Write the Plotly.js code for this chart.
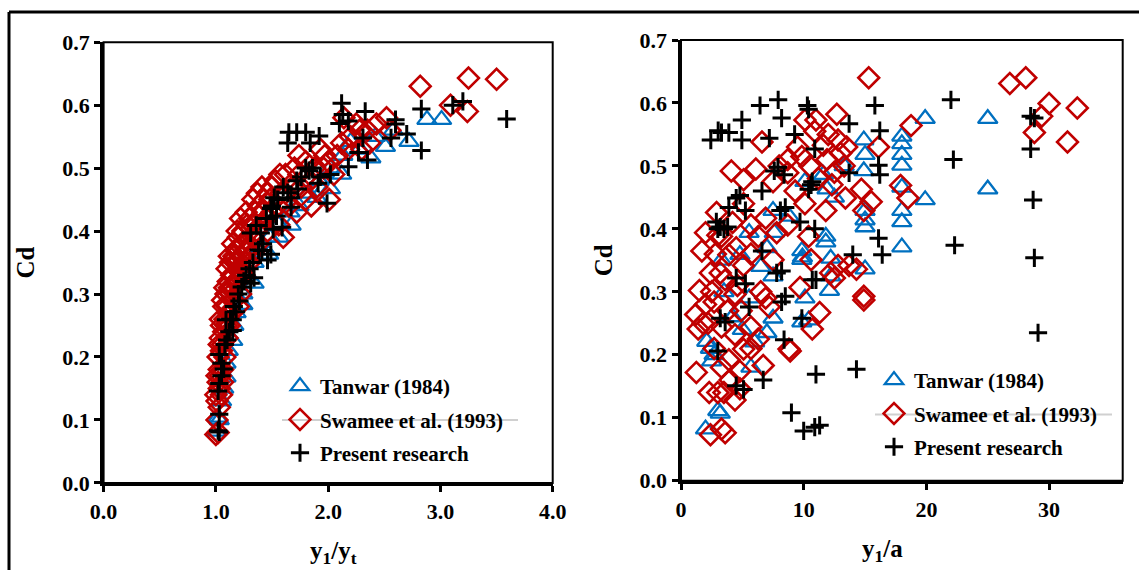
<!DOCTYPE html>
<html>
<head>
<meta charset="utf-8">
<script src="https://cdn.plot.ly/plotly-3.0.1.min.js"></script>
<style>html,body{margin:0;padding:0;background:#fff;}#chart{width:1139px;height:570px;}</style>
</head>
<body>
<div id="chart"></div>
<script>
// ---- Data : [x, Cd] pairs ----
const seriesNames = ["Tanwar (1984)", "Swamee et al. (1993)", "Present research"];
const xTitleLeft = "y<sub>1</sub>/y<sub>t</sub>";
const xTitleRight = "y<sub>1</sub>/a";
const yTitle = "Cd";

// Left panel: Cd vs y1/yt
const leftTanwar = [[2.88,0.577],[3.01,0.577],[2.72,0.542],[2.51,0.534],[2.38,0.516],[2.20,0.542],[2.12,0.49],[2.02,0.467],[1.90,0.453],[1.67,0.409],[1.56,0.39],[1.47,0.363],[1.34,0.317],[1.24,0.283],[1.15,0.226],[1.09,0.168],[1.02,0.104],[1.00,0.082],[1.05,0.13],[1.07,0.15],[1.09,0.19],[1.11,0.21],[1.16,0.25],[1.18,0.27],[1.24,0.30],[1.28,0.33],[1.34,0.35],[1.39,0.37],[1.48,0.39],[1.56,0.41],[1.66,0.43],[1.74,0.44],[1.82,0.46],[1.92,0.48],[2.02,0.50],[2.13,0.52],[2.28,0.53],[2.42,0.55],[2.58,0.56],[1.03,0.10]];

const leftSwamee = [[1.00,0.077],[1.02,0.08],[1.01,0.13],[1.00,0.14],[1.03,0.15],[1.02,0.16],[1.05,0.14],[1.04,0.17],[1.03,0.18],[1.06,0.18],[1.02,0.20],[1.05,0.21],[1.08,0.20],[1.04,0.23],[1.07,0.24],[1.10,0.23],[1.05,0.25],[1.08,0.26],[1.12,0.25],[1.07,0.28],[1.10,0.28],[1.14,0.27],[1.09,0.30],[1.12,0.31],[1.16,0.29],[1.20,0.28],[1.11,0.32],[1.14,0.33],[1.18,0.32],[1.22,0.30],[1.13,0.35],[1.17,0.35],[1.21,0.34],[1.18,0.37],[1.22,0.36],[1.26,0.35],[1.20,0.39],[1.25,0.38],[1.30,0.37],[1.24,0.40],[1.28,0.41],[1.33,0.39],[1.38,0.38],[1.30,0.42],[1.35,0.43],[1.40,0.41],[1.46,0.40],[1.38,0.44],[1.43,0.45],[1.50,0.43],[1.56,0.41],[1.60,0.39],[1.46,0.46],[1.53,0.48],[1.58,0.46],[1.65,0.44],[1.72,0.43],[1.62,0.49],[1.70,0.50],[1.76,0.47],[1.80,0.45],[1.85,0.44],[1.80,0.51],[1.88,0.50],[1.93,0.53],[2.00,0.51],[2.01,0.45],[2.05,0.49],[2.12,0.54],[2.14,0.58],[2.20,0.55],[2.25,0.57],[2.30,0.53],[2.37,0.54],[2.43,0.57],[2.52,0.58],[2.55,0.56],[2.82,0.63],[3.09,0.60],[3.24,0.59],[3.25,0.643],[3.50,0.641],[1.18,0.369],[1.16,0.36],
  [1.01,0.10],[1.03,0.12],[1.01,0.17],[1.06,0.16],[1.03,0.22],[1.06,0.22],[1.04,0.26],[1.09,0.25],[1.06,0.29],[1.11,0.27],[1.08,0.31],[1.13,0.30],[1.10,0.34],[1.15,0.31],[1.12,0.36],[1.16,0.33],[1.15,0.38],[1.19,0.35],[1.23,0.33],[1.19,0.40],[1.23,0.38],[1.27,0.37],[1.22,0.42],[1.27,0.43],[1.32,0.41],[1.36,0.40],[1.33,0.45],[1.37,0.46],[1.42,0.43],[1.45,0.42],[1.41,0.47],[1.48,0.45],[1.55,0.44],[1.50,0.47],[1.57,0.49],[1.62,0.46],[1.68,0.47],[1.74,0.49],[1.74,0.52],[1.84,0.48],[1.90,0.47],[1.96,0.50],[1.97,0.52],[2.08,0.52],[2.18,0.53],[2.28,0.56],[2.35,0.56],[1.25,0.33],[1.30,0.35],[1.35,0.37]];

const leftPresent = [[3.59,0.578],[3.20,0.606],[3.11,0.600],[2.83,0.594],[2.83,0.528],[2.60,0.577],[2.60,0.570],[2.56,0.548],[2.70,0.554],[2.33,0.590],[2.31,0.548],[2.35,0.513],[2.27,0.525],[2.12,0.603],[2.13,0.585],[2.10,0.571],[2.18,0.575],[2.18,0.502],[2.02,0.490],[1.93,0.486],[1.99,0.444],[1.91,0.476],[1.83,0.496],[1.76,0.486],[1.92,0.551],[1.84,0.540],[1.80,0.557],[1.72,0.557],[1.65,0.557],[1.64,0.540],[1.73,0.467],[1.67,0.453],[1.64,0.461],[1.67,0.438],[1.52,0.453],[1.49,0.436],[1.54,0.424],[1.59,0.406],[1.51,0.403],[1.36,0.409],[1.31,0.397],[1.40,0.397],[1.49,0.363],[1.41,0.369],[1.46,0.354],[1.34,0.326],[1.31,0.317],[1.23,0.311],[1.21,0.289],[1.18,0.272],[1.15,0.259],[1.09,0.259],[1.15,0.242],[1.10,0.227],[1.03,0.204],[1.07,0.181],[1.05,0.170],[1.03,0.158],[1.02,0.146],[1.03,0.109],[1.02,0.083],[1.03,0.081],[1.05,0.19],[1.08,0.22],[1.12,0.24],[1.13,0.26],[1.16,0.28],[1.20,0.30],[1.25,0.32],[1.27,0.33],[1.30,0.34],[1.33,0.35],[1.38,0.37],[1.42,0.38],[1.45,0.42],[1.50,0.44],[1.55,0.45],[1.60,0.47],[1.72,0.48],[1.80,0.50],[1.86,0.50]];

// Right panel: Cd vs y1/a
const rightTanwar = [[19.9,0.575],[25.0,0.575],[25.0,0.463],[19.9,0.446],[18.0,0.547],[18.0,0.535],[18.0,0.518],[18.0,0.501],[18.0,0.466],[18.0,0.429],[18.0,0.411],[18.0,0.371],[14.9,0.541],[15.0,0.518],[14.9,0.492],[15.0,0.429],[15.0,0.414],[15.0,0.403],[15.0,0.336],[11.8,0.388],[11.8,0.379],[12.2,0.353],[12.2,0.325],[12.1,0.302],[9.85,0.365],[9.85,0.351],[10.1,0.29],[10.4,0.255],[9.85,0.252],[7.5,0.429],[7.6,0.394],[7.5,0.325],[7.5,0.258],[7.0,0.235],[5.55,0.29],[5.55,0.394],[4.8,0.359],[5.7,0.18],[2.1,0.221],[2.7,0.2],[3.0,0.111],[2.0,0.082],[10.1,0.475],[11.6,0.486],[11.9,0.463],[12.5,0.45],[6.5,0.34],[7.0,0.37],[3.5,0.3],[4.2,0.26],[2.5,0.19],[6.0,0.22],[8.8,0.42],[13.3,0.5],[3.3,0.35],[5.0,0.24],[9.9,0.355],[2.4,0.21],[3.2,0.107]];

const rightSwamee = [[15.3,0.64],[26.8,0.631],[28.1,0.64],[30.0,0.599],[29.4,0.579],[28.8,0.553],[31.5,0.538],[32.3,0.592],[18.75,0.564],[17.9,0.469],[18.5,0.449],[12.7,0.582],[10.1,0.573],[11.0,0.573],[6.6,0.538],[16.1,0.53],[14.7,0.463],[15.5,0.443],[14.9,0.429],[14.9,0.293],[14.9,0.287],[14.3,0.336],[13.7,0.342],[12.8,0.342],[12.2,0.33],[12.5,0.322],[11.3,0.267],[10.7,0.241],[9.7,0.307],[8.8,0.209],[8.9,0.206],[7.2,0.276],[6.9,0.29],[6.7,0.183],[1.25,0.172],[2.4,0.073],[3.3,0.082],[3.6,0.076],[4.1,0.492],[5.1,0.478],[6.1,0.495],[2.9,0.426],[2.0,0.394],[1.7,0.365],[1.5,0.302],[1.2,0.264],[1.4,0.241],[2.3,0.14],[3.0,0.14],[4.4,0.128],[4.8,0.146],[8.7,0.51],[9.85,0.515],[11.9,0.51],[11.6,0.533],[12.8,0.541],[13.0,0.52],[13.3,0.5],[13.4,0.449],[11.8,0.429],[10.1,0.44],[9.3,0.46],[8.7,0.489],[7.5,0.475],[6.9,0.417],[7.8,0.394],[8.7,0.406],[10.4,0.388],[10.6,0.351],[7.5,0.351],[6.3,0.388],[5.7,0.406],[5.1,0.44],[4.2,0.41],[3.3,0.388],[3.9,0.359],[5.1,0.342],[5.7,0.36],[3.6,0.319],[4.4,0.296],[2.7,0.284],[2.4,0.33],[3.3,0.244],[4.4,0.232],[5.7,0.244],[6.3,0.225],[5.1,0.209],[3.9,0.192],[3.3,0.18],[2.7,0.21],[4.8,0.174],[5.7,0.21],[2.2,0.25],[2.8,0.36],[3.2,0.33],[2.5,0.3],[4.6,0.31],[4.9,0.27],[3.8,0.27],[2.0,0.28],[12.3,0.47],[11.2,0.48],[10.5,0.5],[12.0,0.55],[13.5,0.53],[9.5,0.53],[8.0,0.5],[3.5,0.14],[4.0,0.16],[1.8,0.25],[3.0,0.39],[4.5,0.37],[6.5,0.3],[10.9,0.555],[12.5,0.49]];

const rightPresent = [[2.43,0.541],[3.03,0.556],[3.3,0.553],[3.9,0.553],[4.96,0.541],[4.96,0.573],[6.44,0.596],[7.92,0.605],[8.2,0.576],[7.2,0.544],[9.26,0.55],[10.3,0.596],[10.4,0.59],[13.7,0.567],[15.8,0.596],[16.2,0.556],[16.1,0.501],[16.2,0.486],[22.0,0.605],[22.2,0.51],[22.3,0.374],[28.5,0.579],[28.8,0.576],[28.5,0.527],[28.7,0.446],[28.8,0.354],[29.1,0.235],[10.9,0.527],[10.7,0.475],[10.4,0.463],[10.6,0.47],[7.6,0.492],[7.9,0.498],[8.4,0.486],[13.7,0.489],[6.6,0.46],[4.5,0.449],[4.8,0.453],[3.9,0.434],[5.25,0.429],[2.88,0.411],[3.2,0.403],[3.8,0.403],[8.1,0.429],[8.5,0.434],[9.7,0.411],[10.9,0.4],[6.6,0.365],[14.0,0.359],[16.1,0.385],[16.4,0.359],[4.5,0.322],[5.25,0.313],[7.8,0.33],[8.2,0.333],[10.7,0.319],[11.0,0.319],[8.5,0.293],[8.2,0.284],[5.55,0.276],[3.2,0.258],[3.6,0.252],[9.85,0.258],[3.0,0.206],[8.4,0.224],[4.5,0.151],[5.1,0.145],[6.7,0.16],[11.0,0.169],[14.3,0.177],[9.0,0.108],[10.0,0.079],[10.9,0.085],[11.3,0.088],[3.0,0.40],[3.5,0.40]];

// ---- Styles ----
const FONT = "'Liberation Serif', 'Times New Roman', serif";
const W = 1139, H = 570;
const px = v => v / W;            // pixel -> paper x
const py = v => 1 - v / H;        // pixel -> paper y

const styles = [
  {symbol: "triangle-up-open", size: 17, color: "#0070C0", lw: 2.3},
  {symbol: "diamond-open", size: 16, color: "#C00000", lw: 2.6},
  {symbol: "cross-thin-open", size: 13, color: "#000000", lw: 3}
];

function mk(pairs, i, side) {
  const s = styles[i];
  return {
    type: "scatter", mode: "markers",
    x: pairs.map(p => p[0]), y: pairs.map(p => p[1]),
    xaxis: side === "L" ? "x" : "x2",
    yaxis: side === "L" ? "y" : "y2",
    name: "<b>" + seriesNames[i] + "</b>",
    legend: side === "L" ? "legend" : "legend2",
    legendgroup: side + i,
    marker: {symbol: s.symbol, size: s.size, color: s.color, line: {color: s.color, width: s.lw}},
    hoverinfo: "x+y"
  };
}

const data = [
  mk(leftTanwar, 0, "L"), mk(leftSwamee, 1, "L"), mk(leftPresent, 2, "L"),
  mk(rightTanwar, 0, "R"), mk(rightSwamee, 1, "R"), mk(rightPresent, 2, "R")
];

const tickFont = {family: FONT, size: 22, color: "#000", weight: 700};
const titleFont = {family: FONT, size: 25, color: "#000", weight: 700};

function xAx(domain, range, dtick, fmt) {
  return {
    domain: domain, range: range, dtick: dtick, tick0: 0, tickformat: fmt,
    showgrid: false, zeroline: false, showline: true, linecolor: "#000", linewidth: 3.5,
    ticks: "outside", ticklen: 6, tickwidth: 3, tickcolor: "#000",
    tickfont: tickFont, automargin: false
  };
}
function yAx(domain, anchor) {
  return {
    domain: domain, range: [0, 0.7], dtick: 0.1, tick0: 0, tickformat: ".1f", anchor: anchor,
    showgrid: false, zeroline: false, showline: true, linecolor: "#000", linewidth: 3.5,
    ticks: "outside", ticklen: 6, tickwidth: 3, tickcolor: "#000",
    tickfont: tickFont, automargin: false,
    title: {text: "<b>" + yTitle + "</b>", font: titleFont, standoff: 21}
  };
}

const legendFont = {family: FONT, size: 21, color: "#000", weight: 700};

const layout = {
  width: W, height: H,
  margin: {l: 0, r: 0, t: 0, b: 0, pad: 0},
  paper_bgcolor: "#fff", plot_bgcolor: "#fff",
  font: {family: FONT, color: "#000"},
  showlegend: true,
  xaxis: xAx([px(103.6), px(552.7)], [0, 4], 1, ".1f"),
  yaxis: yAx([py(482.9), py(42.2)], "x"),
  xaxis2: Object.assign(xAx([px(681), px(1122.7)], [0, 36], 10, "d"), {anchor: "y2"}),
  yaxis2: yAx([py(480.7), py(40)], "x2"),
  legend: {x: px(280), y: py(366), xanchor: "left", yanchor: "top", bgcolor: "rgba(0,0,0,0)",
           font: legendFont, tracegroupgap: 3, borderwidth: 0},
  legend2: {x: px(874), y: py(360), xanchor: "left", yanchor: "top", bgcolor: "rgba(0,0,0,0)",
            font: legendFont, tracegroupgap: 3, borderwidth: 0},
  annotations: [
    {xref: "paper", yref: "paper", x: px(333), y: py(552), xanchor: "center", yanchor: "middle",
     text: "<b>" + xTitleLeft + "</b>", showarrow: false, font: titleFont},
    {xref: "paper", yref: "paper", x: px(882), y: py(550), xanchor: "center", yanchor: "middle",
     text: "<b>" + xTitleRight + "</b>", showarrow: false, font: titleFont}
  ],
  shapes: [
    // plot-area frames
    {type: "rect", xref: "x domain", yref: "y domain", x0: 0, x1: 1, y0: 0, y1: 1, line: {color: "#000", width: 2}},
    {type: "rect", xref: "x2 domain", yref: "y2 domain", x0: 0, x1: 1, y0: 0, y1: 1, line: {color: "#000", width: 2}},
    // outer figure border (top and left)
    {type: "line", xref: "paper", yref: "paper", x0: px(9), x1: 1.01, y0: py(12), y1: py(12), line: {color: "#000", width: 3}},
    {type: "line", xref: "paper", yref: "paper", x0: px(9), x1: px(9), y0: py(12), y1: -0.05, line: {color: "#000", width: 3}},
    // faint legend lines
    {type: "line", xref: "paper", yref: "paper", x0: px(282), x1: px(518), y0: py(420), y1: py(420), line: {color: "#d0d0d0", width: 2}},
    {type: "line", xref: "paper", yref: "paper", x0: px(875), x1: px(1112), y0: py(414.5), y1: py(414.5), line: {color: "#d0d0d0", width: 2}}
  ]
};

Plotly.newPlot("chart", data, layout, {displayModeBar: false, staticPlot: true});
</script>
</body>
</html>
